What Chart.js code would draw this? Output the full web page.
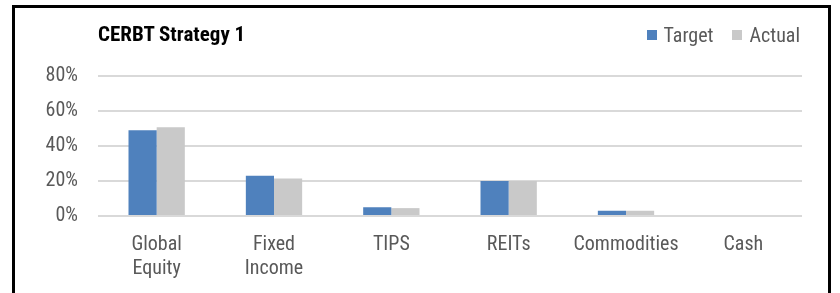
<!DOCTYPE html>
<html>
<head>
<meta charset="utf-8">
<script src="https://cdn.jsdelivr.net/npm/chart.js@4/dist/chart.umd.min.js"></script>
<style>
  html, body { margin: 0; padding: 0; background: #fff; }
  .wrap { position: relative; width: 840px; height: 293px; overflow: hidden; }
  .frame { position: absolute; left: 12px; top: 5px; width: 813px; height: 300px;
           border: 3px solid #000; box-sizing: content-box; }
  .title { position: absolute; left: 98px; top: 22px; line-height: 1;
           font: bold 21px "Roboto Condensed", sans-serif; color: #000; }
  .legend { position: absolute; right: 40px; top: 25px; display: flex; align-items: center;
            font: 20px "Roboto Condensed", sans-serif; color: #595959; line-height: 1; }
  .legend .item { display: flex; align-items: center; margin-left: 19px; }
  .legend .box { width: 10px; height: 10px; margin-right: 7px; }
  canvas { position: absolute; left: 0; top: 0; }
</style>
</head>
<body>
<div class="wrap">
  <div class="frame"></div>
  <canvas id="chart" width="840" height="293"></canvas>
  <div class="title">CERBT Strategy 1</div>
  <div class="legend" id="legend"></div>
</div>
<script>
const categories = [['Global', 'Equity'], ['Fixed', 'Income'], 'TIPS', 'REITs', 'Commodities', 'Cash'];
const targetValues = [49, 23, 5, 20, 3, 0];
const actualValues = [50.7, 21.5, 4.5, 20, 3, 0];
const yTicks = [0, 20, 40, 60, 80];

const textColor = '#595959';
const fontFamily = '"Roboto Condensed", sans-serif';

const ctx = document.getElementById('chart').getContext('2d');
const chart = new Chart(ctx, {
  type: 'bar',
  data: {
    labels: categories,
    datasets: [
      { label: 'Target', data: targetValues, backgroundColor: '#4F81BD' },
      { label: 'Actual', data: actualValues, backgroundColor: '#C9C9C9' }
    ]
  },
  options: {
    responsive: false,
    animation: false,
    layout: { padding: { left: 0, right: 38, top: 76, bottom: 0 } },
    datasets: { bar: { categoryPercentage: 0.48, barPercentage: 1 } },
    plugins: {
      tooltip: { enabled: false },
      legend: { display: false }
    },
    scales: {
      x: {
        afterFit: (scale) => { scale.height = 77; },
        grid: { display: false },
        border: { display: false },
        ticks: { color: textColor, font: { family: fontFamily, size: 20, lineHeight: 1.2 }, padding: 9,
                 maxRotation: 0, autoSkip: false }
      },
      y: {
        min: 0, max: 80,
        afterFit: (scale) => { scale.width = 98; },
        afterBuildTicks: (scale) => { scale.ticks = yTicks.map(v => ({ value: v })); },
        grid: { color: '#D9D9D9', lineWidth: 2, drawTicks: false },
        border: { display: false },
        ticks: { color: textColor, font: { family: fontFamily, size: 20 }, padding: 20, callback: v => v + '%' }
      }
    }
  }
});

// leyenda en HTML, a partir de los datasets
const legend = document.getElementById('legend');
chart.data.datasets.forEach(ds => {
  const item = document.createElement('span');
  item.className = 'item';
  item.innerHTML = `<span class="box" style="background:${ds.backgroundColor}"></span><span>${ds.label}</span>`;
  legend.appendChild(item);
});
</script>
</body>
</html>
